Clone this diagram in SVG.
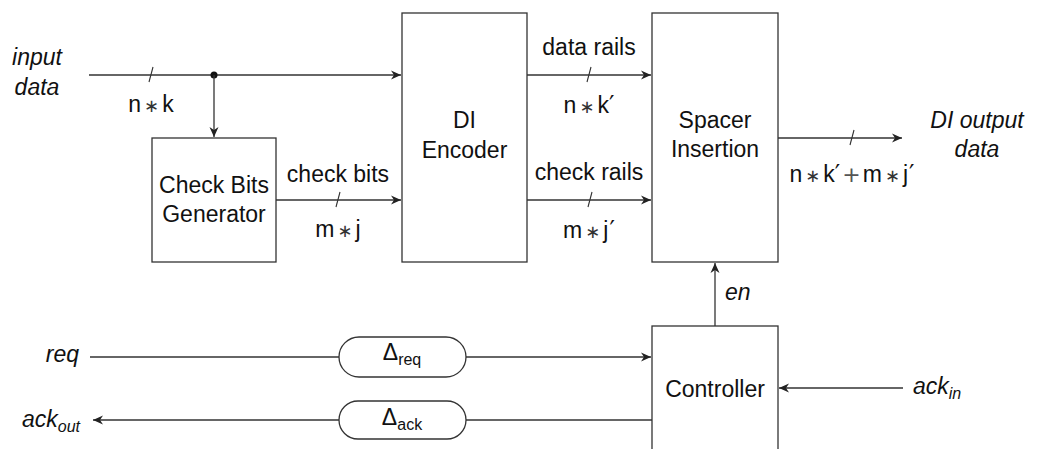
<svg xmlns="http://www.w3.org/2000/svg" width="1037" height="449" viewBox="0 0 1037 449">
  <style>
    .box { fill: #fff; stroke: #333; stroke-width: 1.3; }
    .wire { fill: none; stroke: #333; stroke-width: 1.3; }
    .tick { fill: none; stroke: #333; stroke-width: 1.1; }
    text { font-family: "Liberation Sans", Arial, sans-serif; font-size: 23px; fill: #111; text-anchor: middle; }
    .it { font-style: italic; }
    .sub { font-size: 16px; }
    .op { font-family: "DejaVu Sans", sans-serif; font-size: 18px; fill: #333; }
    .pl { font-family: "DejaVu Sans", sans-serif; font-size: 22px; fill: #555; }
    .pr { font-family: "DejaVu Sans", sans-serif; font-size: 24px; }
    .l { text-anchor: start; }
    .r { text-anchor: end; }
  </style>
  <defs>
    <marker id="arrow" viewBox="-11 -5 12 10" refX="0" refY="0" markerWidth="12" markerHeight="10" markerUnits="userSpaceOnUse" orient="auto">
      <path d="M0,0 L-10,-4.5 L-7,0 L-10,4.5 z" fill="#222"/>
    </marker>
  </defs>

  <rect width="1037" height="449" fill="#fff"/>

  <!-- connectors -->
  <g id="connectors">
    <!-- input data bus -->
    <line class="wire" x1="89" y1="75" x2="401" y2="75" marker-end="url(#arrow)"/>
    <line class="tick" x1="149" y1="82" x2="153" y2="67"/>
    <circle cx="214" cy="75" r="3.5" fill="#111"/>
    <line class="wire" x1="214" y1="75" x2="214" y2="137" marker-end="url(#arrow)"/>
    <!-- check bits -->
    <line class="wire" x1="276" y1="200" x2="401" y2="200" marker-end="url(#arrow)"/>
    <line class="tick" x1="336" y1="207" x2="340" y2="192"/>
    <!-- data rails -->
    <line class="wire" x1="527" y1="75" x2="651" y2="75" marker-end="url(#arrow)"/>
    <line class="tick" x1="587" y1="82" x2="591" y2="67"/>
    <!-- check rails -->
    <line class="wire" x1="527" y1="200" x2="651" y2="200" marker-end="url(#arrow)"/>
    <line class="tick" x1="588" y1="207" x2="592" y2="192"/>
    <!-- DI output -->
    <line class="wire" x1="778" y1="138" x2="902" y2="138" marker-end="url(#arrow)"/>
    <line class="tick" x1="850" y1="145" x2="854" y2="130"/>
    <!-- enable -->
    <line class="wire" x1="715" y1="326" x2="715" y2="263" marker-end="url(#arrow)"/>
    <!-- request path -->
    <line class="wire" x1="90" y1="357" x2="339" y2="357"/>
    <line class="wire" x1="466" y1="357" x2="651" y2="357" marker-end="url(#arrow)"/>
    <!-- acknowledge out -->
    <line class="wire" x1="652" y1="420" x2="466" y2="420"/>
    <line class="wire" x1="339" y1="420" x2="93" y2="420" marker-end="url(#arrow)"/>
    <!-- acknowledge in -->
    <line class="wire" x1="903" y1="388" x2="779" y2="388" marker-end="url(#arrow)"/>
  </g>

  <!-- free labels -->
  <g id="labels">
    <text class="it" x="37" y="65">input</text>
    <text class="it" x="37" y="95">data</text>
    <text x="151" y="112">n<tspan class="op" dx="3">∗</tspan><tspan dx="3">k</tspan></text>
    <text x="338" y="182">check bits</text>
    <text x="338" y="237">m<tspan class="op" dx="3">∗</tspan><tspan dx="3">j</tspan></text>
    <text x="589" y="55">data rails</text>
    <text x="589" y="113">n<tspan class="op" dx="3">∗</tspan><tspan dx="3">k</tspan><tspan class="pr">′</tspan></text>
    <text x="589" y="180">check rails</text>
    <text x="589" y="238">m<tspan class="op" dx="3">∗</tspan><tspan dx="3">j</tspan><tspan class="pr" dx="1">′</tspan></text>
    <text x="852" y="182">n<tspan class="op" dx="3">∗</tspan><tspan dx="3">k</tspan><tspan class="pr">′</tspan><tspan class="pl" dx="2">+</tspan><tspan dx="2">m</tspan><tspan class="op" dx="3">∗</tspan><tspan dx="3">j</tspan><tspan class="pr" dx="1">′</tspan></text>
    <text class="it" x="977" y="128">DI output</text>
    <text class="it" x="977" y="157">data</text>
    <text class="it l" x="725" y="300">en</text>
    <text class="it r" x="79" y="362">req</text>
    <text class="it r" x="80" y="427">ack<tspan class="sub" dy="5">out</tspan></text>
    <text class="it l" x="913" y="394">ack<tspan class="sub" dy="5">in</tspan></text>
  </g>

  <g id="check-bits-generator">
    <rect class="box" x="152" y="138" width="124" height="124"/>
    <text x="214" y="193">Check Bits</text>
    <text x="214" y="222">Generator</text>
  </g>

  <g id="di-encoder">
    <rect class="box" x="402" y="13" width="125" height="249"/>
    <text x="464.5" y="128">DI</text>
    <text x="464.5" y="158">Encoder</text>
  </g>

  <g id="spacer-insertion">
    <rect class="box" x="652" y="13" width="126" height="249"/>
    <text x="715" y="128">Spacer</text>
    <text x="715" y="157">Insertion</text>
  </g>

  <g id="controller">
    <rect class="box" x="652" y="326" width="126" height="140"/>
    <text x="715" y="397">Controller</text>
  </g>

  <g id="delay-req">
    <rect class="box" x="339" y="337" width="127" height="40" rx="20" ry="20"/>
    <text x="402" y="360">Δ<tspan class="sub" dy="5">req</tspan></text>
  </g>

  <g id="delay-ack">
    <rect class="box" x="339" y="401" width="127" height="38" rx="19" ry="19"/>
    <text x="402" y="425">Δ<tspan class="sub" dy="5">ack</tspan></text>
  </g>
</svg>
